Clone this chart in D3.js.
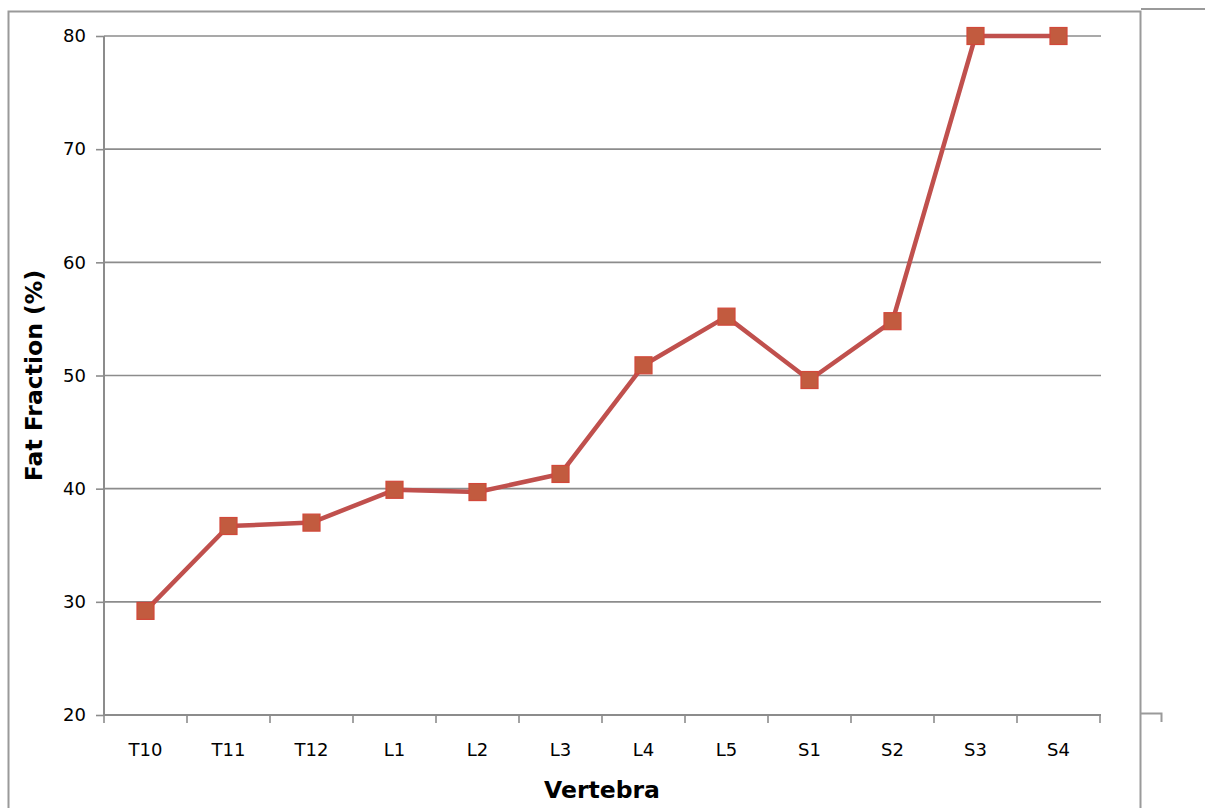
<!DOCTYPE html>
<html>
<head>
<meta charset="utf-8">
<script src="https://cdn.jsdelivr.net/npm/d3@7"></script>
<style>
  html, body { margin: 0; padding: 0; background: #fff; }
  svg { display: block; }
  text { font-family: "DejaVu Sans", Verdana, sans-serif; fill: #000; }
</style>
</head>
<body>
<svg id="chart" width="1205" height="808"></svg>
<script>
// Fat fraction per vertebral level
const vertebrae = ["T10", "T11", "T12", "L1", "L2", "L3", "L4", "L5", "S1", "S2", "S3", "S4"];
const fatFraction = [29.2, 36.7, 37.0, 39.9, 39.7, 41.3, 50.9, 55.2, 49.6, 54.8, 80.0, 80.0];
const yTicks = [20, 30, 40, 50, 60, 70, 80];

const svg = d3.select("#chart");
const grey = "#8c8c8c";

const plotLeft = 104, plotRight = 1100, plotTop = 36, plotBottom = 715;

const x = d3.scaleBand().domain(vertebrae).range([plotLeft, plotRight]);
const y = d3.scaleLinear().domain([20, 80]).range([plotBottom, plotTop]);

// outer chart frame
svg.append("path")
  .attr("d", "M8.5,808 V11.5 H1140.5 V808")
  .attr("fill", "none").attr("stroke", "#9a9a9a").attr("stroke-width", 2);
svg.append("path")
  .attr("d", "M1141,9 H1205")
  .attr("fill", "none").attr("stroke", "#9a9a9a").attr("stroke-width", 2);
svg.append("path")
  .attr("d", "M1141,713.5 H1161.5 V722")
  .attr("fill", "none").attr("stroke", "#9a9a9a").attr("stroke-width", 2);

// horizontal gridlines
svg.append("g")
  .selectAll("line")
  .data(yTicks.filter(d => d !== 20))
  .join("line")
  .attr("x1", plotLeft).attr("x2", plotRight + 1)
  .attr("y1", d => y(d)).attr("y2", d => y(d))
  .attr("stroke", grey).attr("stroke-width", 1.6);

// y axis
const yAxis = svg.append("g")
  .attr("transform", `translate(${plotLeft},0)`)
  .call(d3.axisLeft(y).tickValues(yTicks).tickSize(8).tickPadding(10).tickFormat(d3.format("d")));
yAxis.select(".domain").attr("stroke", grey).attr("stroke-width", 2).attr("d", `M0,${plotBottom}V${plotTop}`);
yAxis.selectAll(".tick line").attr("stroke", grey).attr("stroke-width", 1.6);
yAxis.selectAll(".tick text").attr("font-size", 18).style("font-family", "DejaVu Sans, sans-serif").attr("fill", "#000");

// x axis with ticks between categories
const xAxis = svg.append("g")
  .attr("transform", `translate(0,${plotBottom})`)
  .call(d3.axisBottom(x).tickSize(0).tickPadding(28));
xAxis.select(".domain").attr("stroke", grey).attr("stroke-width", 2).attr("d", `M${plotLeft},0H${plotRight + 1}`);
xAxis.selectAll(".tick text").attr("font-size", 18).style("font-family", "DejaVu Sans, sans-serif").attr("fill", "#000");
xAxis.append("g")
  .selectAll("line")
  .data(vertebrae.map(d => x(d)).concat([plotRight]))
  .join("line")
  .attr("x1", d => d).attr("x2", d => d)
  .attr("y1", 0).attr("y2", 8)
  .attr("stroke", grey).attr("stroke-width", 1.6);

// axis titles
svg.append("text")
  .attr("x", (plotLeft + plotRight) / 2).attr("y", 798)
  .attr("text-anchor", "middle")
  .attr("font-size", 23.5).attr("font-weight", "bold")
  .text("Vertebra");
svg.append("text")
  .attr("transform", `translate(42,${(plotTop + plotBottom) / 2}) rotate(-90)`)
  .attr("text-anchor", "middle")
  .attr("font-size", 23.5).attr("font-weight", "bold")
  .text("Fat Fraction (%)");

// data line
const cx = d => x(d) + x.bandwidth() / 2;
svg.append("path")
  .datum(vertebrae.map((v, i) => [cx(v), y(fatFraction[i])]))
  .attr("d", d3.line())
  .attr("fill", "none")
  .attr("stroke", "#c0504d")
  .attr("stroke-width", 4.5)
  .attr("stroke-linejoin", "round");

// square markers
const ms = 17;
svg.append("g")
  .selectAll("rect")
  .data(vertebrae.map((v, i) => ({ v, val: fatFraction[i] })))
  .join("rect")
  .attr("x", d => cx(d.v) - ms / 2)
  .attr("y", d => y(d.val) - ms / 2)
  .attr("width", ms).attr("height", ms)
  .attr("fill", "#c25b3f")
  .attr("stroke", "#d2483a")
  .attr("stroke-width", 1.2);
</script>
</body>
</html>
